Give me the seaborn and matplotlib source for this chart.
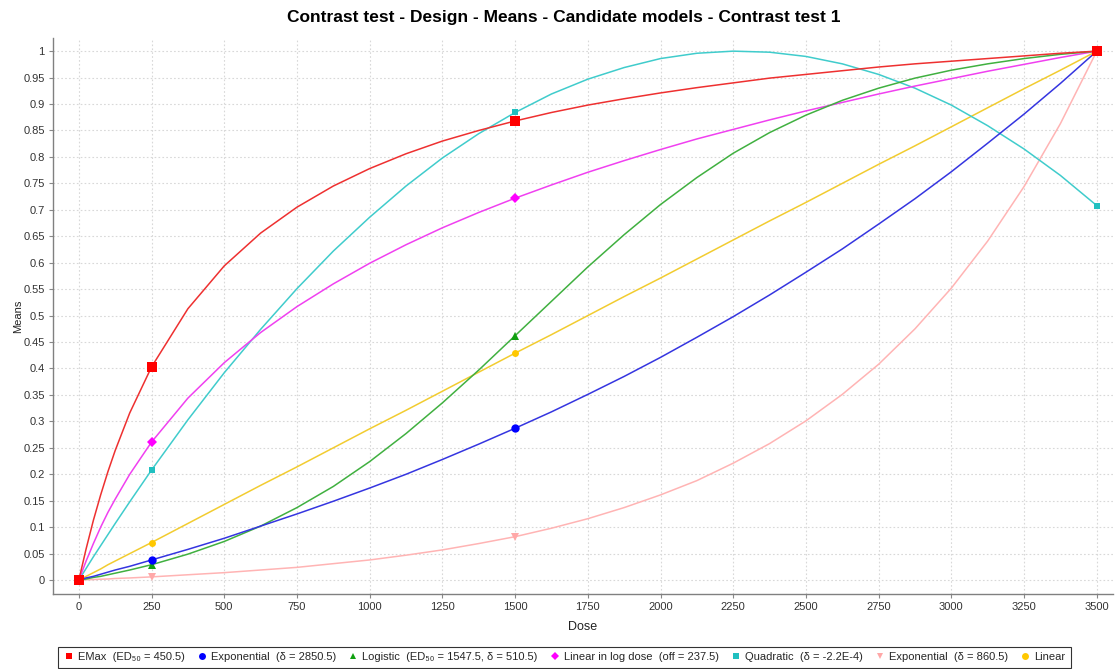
import numpy as np
import pandas as pd
import matplotlib
matplotlib.use('Agg')
import matplotlib.pyplot as plt
from matplotlib import font_manager
from matplotlib.lines import Line2D
import seaborn as sns

# Dose grid and read-off means for each candidate model
dose = [0, 25, 50, 75, 100, 125, 175, 250, 375, 500, 625, 750, 875, 1000, 1125,
        1250, 1375, 1500, 1625, 1750, 1875, 2000, 2125, 2250, 2375, 2500, 2625,
        2750, 2875, 3000, 3125, 3250, 3375, 3500]
design_doses = [0, 250, 1500, 3500]

emax = [0, 0.059, 0.113, 0.161, 0.205, 0.245, 0.316, 0.403, 0.513, 0.594, 0.656,
        0.705, 0.745, 0.778, 0.806, 0.830, 0.850, 0.868, 0.884, 0.898, 0.910,
        0.921, 0.931, 0.940, 0.949, 0.956, 0.963, 0.970, 0.976, 0.981, 0.986,
        0.991, 0.996, 1.0]
exp_2850 = [0, 0.004, 0.007, 0.011, 0.015, 0.019, 0.026, 0.038, 0.058, 0.079,
            0.102, 0.125, 0.149, 0.174, 0.200, 0.228, 0.257, 0.287, 0.318, 0.351,
            0.385, 0.421, 0.459, 0.498, 0.539, 0.582, 0.626, 0.673, 0.721, 0.772,
            0.826, 0.881, 0.939, 1.0]
logistic = [0, 0.002, 0.005, 0.007, 0.010, 0.013, 0.019, 0.029, 0.049, 0.073,
            0.102, 0.137, 0.177, 0.224, 0.277, 0.335, 0.397, 0.462, 0.527, 0.592,
            0.653, 0.710, 0.761, 0.807, 0.846, 0.879, 0.907, 0.930, 0.949, 0.964,
            0.976, 0.986, 0.994, 1.0]
loglin = [0, 0.036, 0.069, 0.100, 0.128, 0.153, 0.200, 0.261, 0.344, 0.411,
          0.468, 0.517, 0.560, 0.599, 0.634, 0.666, 0.695, 0.722, 0.747, 0.771,
          0.793, 0.814, 0.834, 0.852, 0.870, 0.887, 0.903, 0.919, 0.934, 0.948,
          0.962, 0.975, 0.988, 1.0]
quadratic = [0, 0.022, 0.044, 0.065, 0.086, 0.107, 0.148, 0.208, 0.303, 0.392,
             0.474, 0.551, 0.622, 0.686, 0.745, 0.798, 0.844, 0.884, 0.919, 0.947,
             0.969, 0.986, 0.996, 1.0, 0.998, 0.990, 0.976, 0.956, 0.930, 0.898,
             0.859, 0.815, 0.765, 0.708]
exp_860 = [0, 0.0005, 0.001, 0.0016, 0.002, 0.003, 0.004, 0.006, 0.010, 0.014,
           0.019, 0.024, 0.031, 0.038, 0.047, 0.057, 0.069, 0.082, 0.098, 0.116,
           0.137, 0.161, 0.188, 0.221, 0.258, 0.301, 0.351, 0.408, 0.475, 0.552,
           0.641, 0.744, 0.863, 1.0]
linear = [0, 0.007, 0.014, 0.021, 0.029, 0.036, 0.050, 0.071, 0.107, 0.143,
          0.179, 0.214, 0.250, 0.286, 0.321, 0.357, 0.393, 0.429, 0.464, 0.500,
          0.536, 0.571, 0.607, 0.643, 0.679, 0.714, 0.750, 0.786, 0.821, 0.857,
          0.893, 0.929, 0.964, 1.0]

labels = ['EMax  (ED\u2085\u2080 = 450.5)',
          'Exponential  (\u03b4 = 2850.5)',
          'Logistic  (ED\u2085\u2080 = 1547.5, \u03b4 = 510.5)',
          'Linear in log dose  (off = 237.5)',
          'Quadratic  (\u03b4 = -2.2E-4)',
          'Exponential  (\u03b4 = 860.5)',
          'Linear']
series = [emax, exp_2850, logistic, loglin, quadratic, exp_860, linear]
line_colors = ['#ee3030', '#3535e0', '#40b040', '#f040f0', '#40cccc', '#ffb4b4', '#f2cc30']
mark_colors = ['#ff0000', '#0000ff', '#10a010', '#ff00ff', '#20c0c0', '#ffa8a8', '#ffc800']
markers = ['s', 'o', '^', 'D', 's', 'v', 'o']
msizes = [7, 6, 6, 5, 5, 6, 5]
leg_sizes = [5, 5, 5, 3.8, 5, 5, 5]

sns.set_style('white')
plt.rcParams['font.family'] = ['Liberation Sans', 'DejaVu Sans']

# narrow bold title font if available
try:
    font_manager.findfont(font_manager.FontProperties(family='Liberation Sans Narrow'),
                          fallback_to_default=False)
    title_font = dict(family=['Liberation Sans Narrow', 'DejaVu Sans'], fontsize=14.5)
except Exception:
    title_font = dict(family=['Liberation Sans', 'DejaVu Sans'], fontsize=12.5)

fig = plt.figure(figsize=(11.15, 6.69), dpi=100)
ax = fig.add_axes([0.0475, 0.112, 0.9505, 0.831])

# draw in reverse so EMax ends up on top
for i in reversed(range(len(series))):
    df = pd.DataFrame({'Dose': dose, 'Means': series[i]})
    sns.lineplot(data=df, x='Dose', y='Means', ax=ax, color=line_colors[i],
                 linewidth=1.1, zorder=2 + (len(series) - i) * 0.1)
    pts = df[df['Dose'].isin(design_doses)]
    ax.plot(pts['Dose'], pts['Means'], linestyle='none', marker=markers[i],
            markersize=msizes[i], color=mark_colors[i], markeredgewidth=0,
            zorder=3 + (len(series) - i) * 0.1)

ax.set_xlim(-89, 3555)
ax.set_ylim(-0.0265, 1.0246)
ax.set_xticks(np.arange(0, 3501, 250))
ax.set_yticks(np.arange(0, 1.001, 0.05))
ax.set_yticklabels([f'{v:g}' for v in np.round(np.arange(0, 1.001, 0.05), 2)])
ax.grid(True, color='#d8d8d8', linestyle=(0, (1.5, 2)), linewidth=0.8)
ax.tick_params(axis='both', labelsize=8, colors='#333333', length=3,
               width=0.8, direction='out', color='#888888', pad=3)
ax.tick_params(axis='both', left=True, bottom=True)
for side in ['top', 'right']:
    ax.spines[side].set_visible(False)
for side in ['left', 'bottom']:
    ax.spines[side].set_color('#808080')
    ax.spines[side].set_linewidth(1.0)

ax.set_xlabel('Dose', fontsize=9, color='#222222', labelpad=6)
ax.set_ylabel('Means', fontsize=8, color='#222222', labelpad=0)
fig.suptitle('Contrast test - Design - Means - Candidate models - Contrast test 1',
             x=0.506, y=0.985, fontweight='bold', color='black', **title_font)

handles = [Line2D([], [], linestyle='none', marker=markers[i], markersize=leg_sizes[i],
                  color=mark_colors[i], markeredgewidth=0)
           for i in range(len(series))]
leg = fig.legend(handles, labels, loc='lower left', bbox_to_anchor=(0.051, 0.0),
                 ncol=7, fontsize=8, frameon=True, fancybox=False,
                 handletextpad=0.3, columnspacing=1.05, handlelength=1.0,
                 borderpad=0.5, borderaxespad=0.1)
leg.get_frame().set_edgecolor('black')
leg.get_frame().set_linewidth(0.8)

fig.savefig('out.png', dpi=100)
